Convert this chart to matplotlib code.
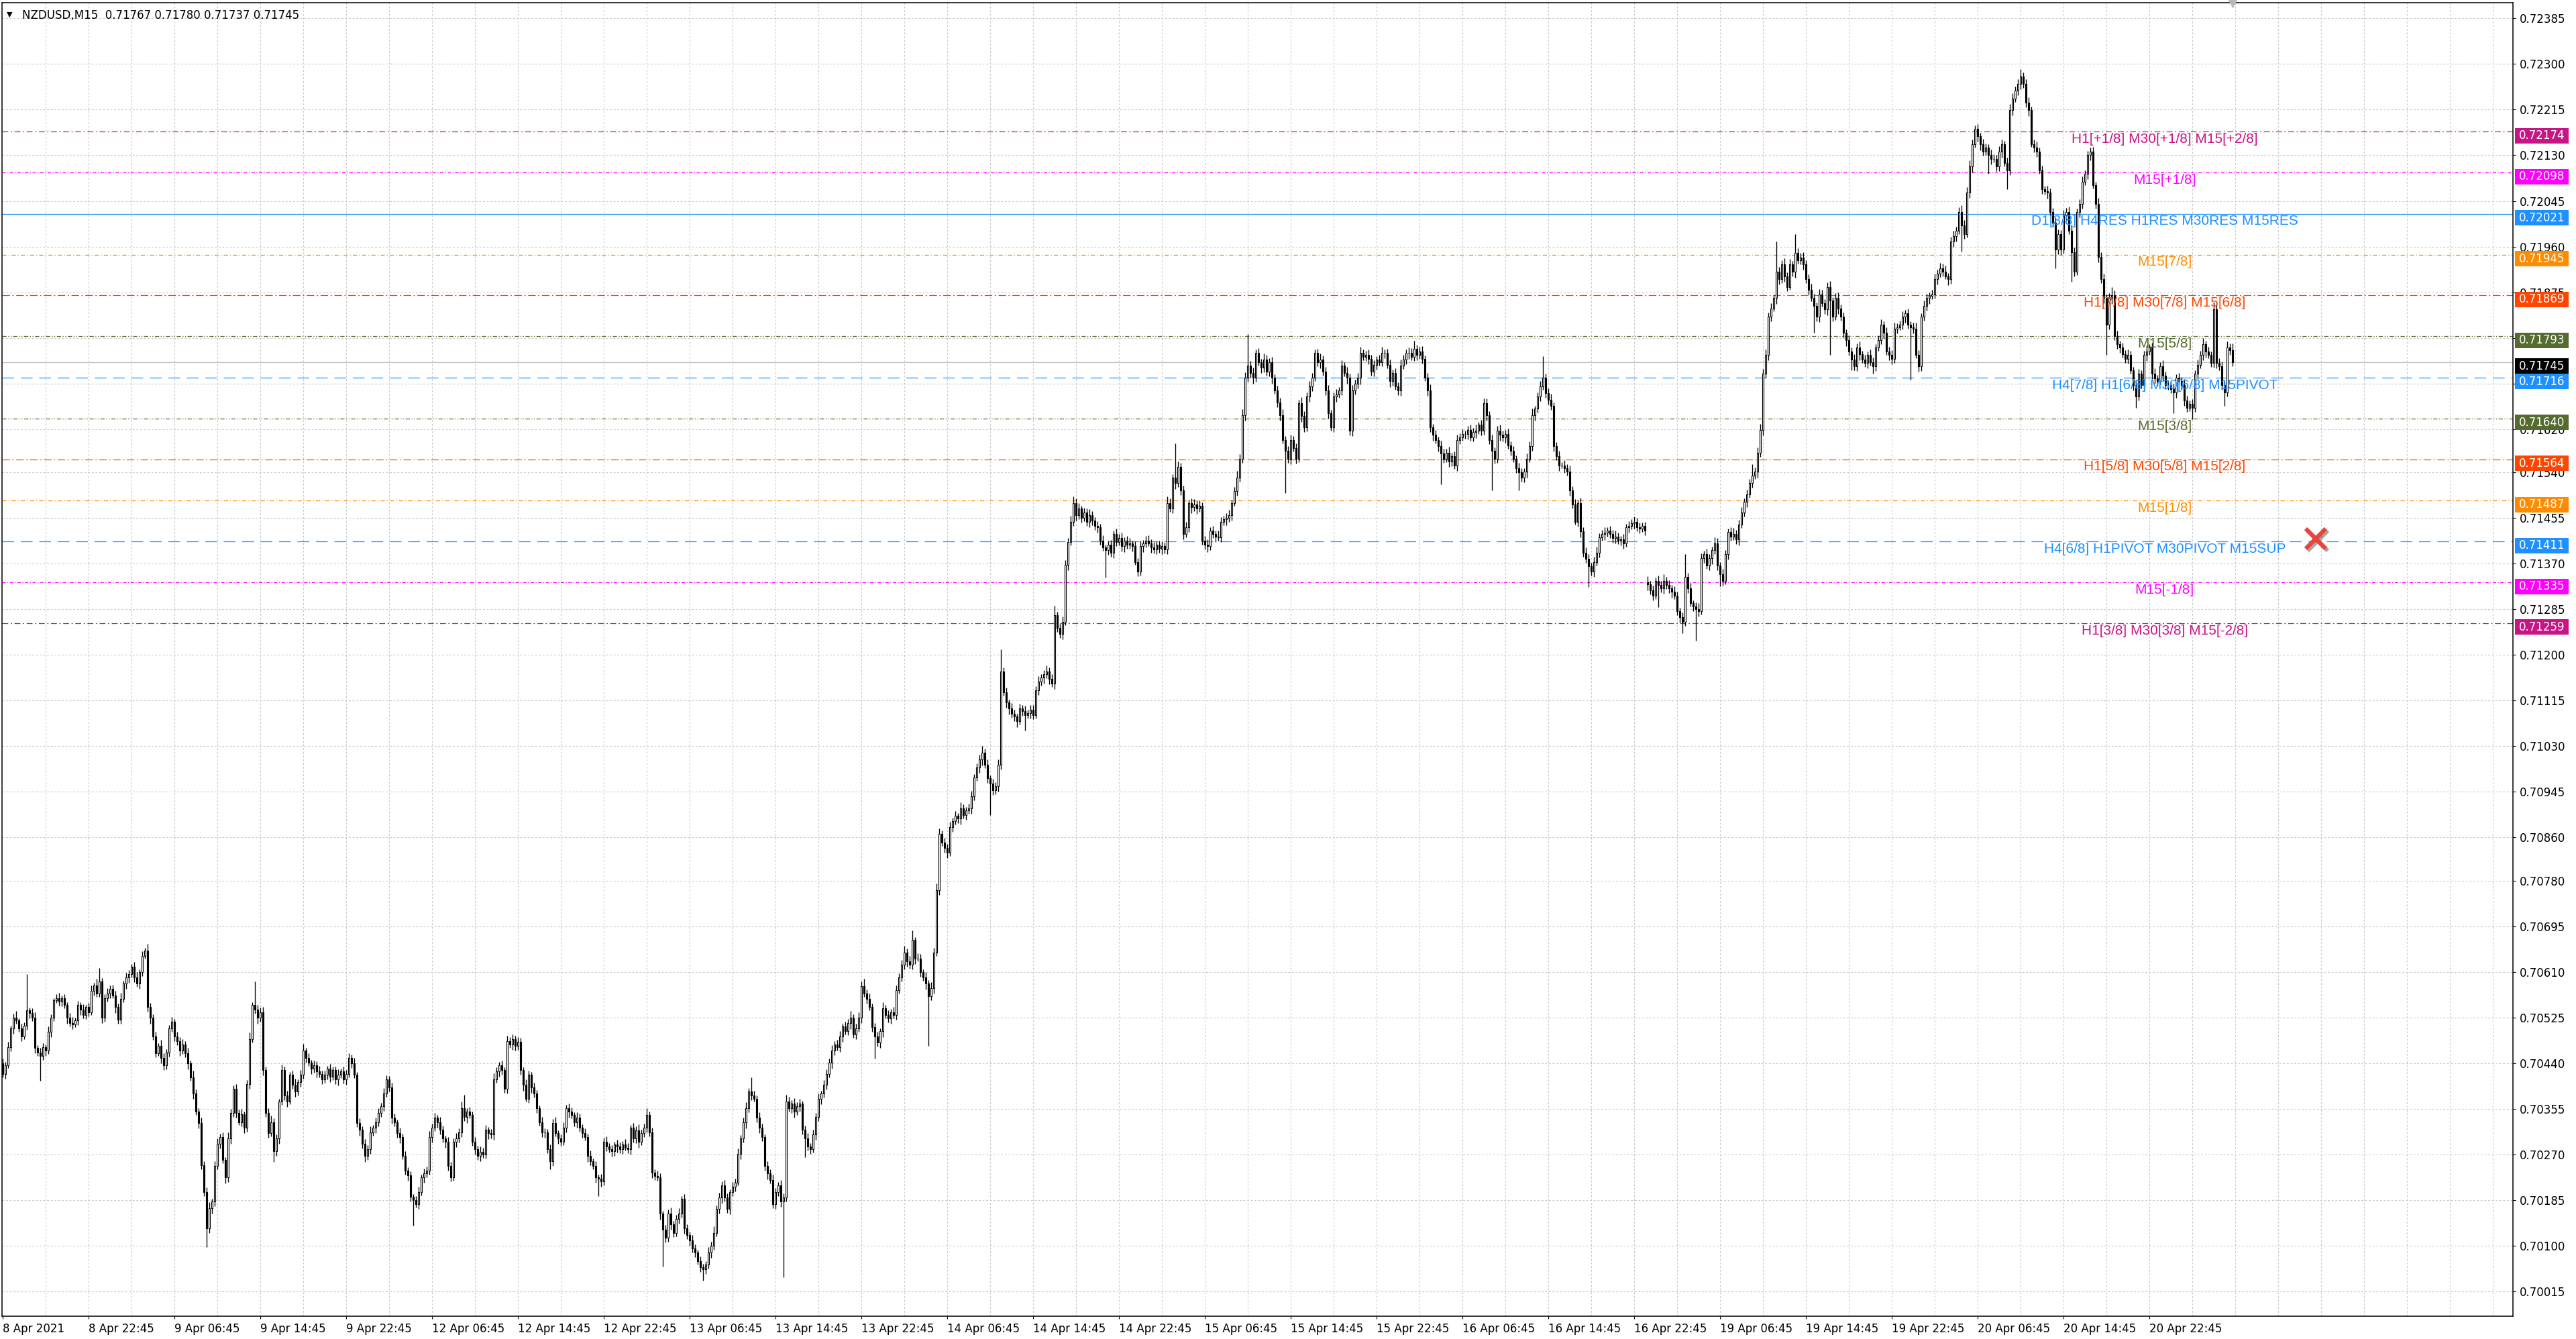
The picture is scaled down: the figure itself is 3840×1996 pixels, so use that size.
# NZDUSD M15 - gráfico de velas estilo MT4 con niveles Murrey
import matplotlib
matplotlib.use("Agg")
import matplotlib.pyplot as plt
import matplotlib.patheffects as pe
from matplotlib.patches import Rectangle

# ---------------- datos ----------------
base = 0.70000   # los cierres van en puntos (1e-5) sobre esta base
first_open = 440
gap_bar = 613    # primera vela del lunes 19 Apr
gap_open = 1335

closes = [
    420, 436, 470, 505, 525, 520, 505, 490, 510, 539, 534, 525, 468, 460, 454, 470,
    463, 499, 525, 557, 561, 555, 561, 548, 525, 515, 512, 520, 548, 540, 530, 545,
    535, 575, 585, 570, 592, 525, 561, 570, 579, 566, 545, 521, 560, 588, 600, 606,
    619, 600, 588, 610, 640, 650, 545, 525, 490, 459, 472, 450, 436, 460, 505, 517,
    490, 481, 463, 475, 459, 440, 414, 383, 350, 329, 250, 200, 133, 170, 182, 249,
    290, 302, 260, 227, 300, 347, 392, 347, 330, 345, 320, 401, 485, 548, 540, 525,
    535, 427, 347, 310, 330, 276, 300, 369, 427, 380, 369, 418, 400, 387, 405, 418,
    463, 450, 441, 430, 436, 425, 420, 410, 418, 430, 415, 427, 410, 418, 425, 410,
    420, 450, 440, 418, 329, 316, 290, 267, 280, 311, 320, 330, 347, 360, 383, 410,
    395, 338, 330, 310, 302, 267, 240, 231, 191, 185, 178, 200, 227, 235, 240, 302,
    320, 338, 330, 316, 300, 294, 249, 227, 294, 300, 311, 356, 340, 350, 343, 294,
    280, 267, 275, 270, 316, 310, 307, 410, 425, 436, 427, 392, 481, 475, 485, 472,
    480, 427, 400, 374, 418, 395, 383, 356, 330, 311, 311, 280, 258, 329, 310, 300,
    294, 320, 356, 350, 343, 330, 338, 320, 310, 302, 267, 258, 249, 227, 225, 220,
    294, 285, 280, 276, 289, 285, 280, 289, 283, 280, 320, 300, 315, 294, 310, 320,
    343, 311, 236, 230, 227, 160, 130, 115, 160, 140, 124, 150, 160, 187, 133, 120,
    110, 95, 88, 71, 60, 57, 65, 88, 100, 124, 169, 190, 213, 190, 169, 200,
    210, 218, 271, 300, 330, 356, 387, 380, 374, 338, 320, 302, 249, 235, 222, 178,
    200, 213, 182, 190, 369, 356, 365, 350, 360, 365, 316, 300, 285, 280, 307, 340,
    374, 383, 400, 420, 441, 463, 475, 470, 490, 508, 500, 515, 525, 494, 505, 525,
    583, 570, 560, 545, 507, 490, 478, 500, 542, 530, 524, 535, 530, 576, 600, 623,
    646, 630, 623, 669, 635, 635, 610, 600, 588, 565, 580, 646, 762, 867, 850, 840,
    832, 879, 890, 900, 895, 914, 902, 910, 914, 937, 972, 990, 1005, 1018, 995, 970,
    960, 948, 955, 995, 1169, 1130, 1111, 1100, 1090, 1085, 1076, 1100, 1095, 1088, 1092, 1098,
    1088, 1134, 1150, 1158, 1164, 1169, 1155, 1146, 1274, 1250, 1239, 1262, 1367, 1410, 1448, 1483,
    1460, 1472, 1455, 1465, 1448, 1460, 1450, 1440, 1437, 1413, 1400, 1395, 1405, 1390, 1425, 1410,
    1418, 1402, 1413, 1405, 1408, 1402, 1373, 1355, 1402, 1408, 1413, 1408, 1400, 1396, 1405, 1398,
    1402, 1396, 1483, 1472, 1530, 1520, 1550, 1506, 1425, 1437, 1483, 1475, 1480, 1472, 1478, 1413,
    1405, 1402, 1431, 1425, 1420, 1419, 1448, 1452, 1455, 1460, 1483, 1505, 1530, 1565, 1646, 1716,
    1739, 1725, 1716, 1762, 1745, 1735, 1750, 1727, 1745, 1716, 1692, 1670, 1646, 1600, 1580, 1565,
    1600, 1585, 1565, 1669, 1645, 1623, 1681, 1700, 1716, 1762, 1745, 1750, 1727, 1692, 1650, 1623,
    1681, 1685, 1692, 1739, 1725, 1716, 1617, 1692, 1705, 1716, 1762, 1755, 1758, 1751, 1727, 1740,
    1750, 1745, 1762, 1762, 1740, 1710, 1725, 1700, 1692, 1739, 1750, 1762, 1762, 1755, 1770, 1758,
    1765, 1751, 1716, 1692, 1623, 1610, 1600, 1588, 1575, 1565, 1576, 1560, 1570, 1553, 1600, 1605,
    1611, 1611, 1618, 1605, 1615, 1617, 1628, 1617, 1669, 1646, 1600, 1580, 1565, 1617, 1610, 1605,
    1611, 1590, 1580, 1565, 1547, 1540, 1530, 1541, 1565, 1588, 1646, 1658, 1681, 1700, 1716, 1687,
    1675, 1663, 1588, 1570, 1553, 1553, 1548, 1541, 1506, 1480, 1448, 1483, 1430, 1390, 1379, 1365,
    1355, 1373, 1390, 1419, 1425, 1428, 1431, 1425, 1418, 1420, 1412, 1415, 1408, 1437, 1440, 1445,
    1448, 1437, 1435, 1440, 1431, 1331, 1320, 1310, 1338, 1330, 1324, 1338, 1330, 1324, 1318, 1310,
    1282, 1270, 1261, 1345, 1324, 1296, 1290, 1285, 1282, 1380, 1387, 1366, 1380, 1395, 1408, 1366,
    1350, 1338, 1387, 1429, 1420, 1425, 1415, 1443, 1465, 1485, 1499, 1520, 1534, 1541, 1576, 1618,
    1723, 1758, 1829, 1845, 1864, 1913, 1899, 1927, 1905, 1885, 1927, 1913, 1948, 1935, 1940, 1927,
    1899, 1880, 1864, 1850, 1829, 1871, 1855, 1843, 1885, 1860, 1829, 1864, 1845, 1829, 1800, 1786,
    1765, 1750, 1737, 1772, 1760, 1750, 1744, 1758, 1745, 1737, 1772, 1786, 1814, 1800, 1765, 1758,
    1751, 1807, 1810, 1814, 1829, 1836, 1814, 1810, 1807, 1758, 1737, 1829, 1850, 1864, 1868, 1871,
    1899, 1910, 1920, 1913, 1905, 1899, 1969, 1980, 1990, 2025, 2000, 1983, 2060, 2109, 2151, 2179,
    2165, 2150, 2137, 2144, 2130, 2123, 2123, 2109, 2137, 2151, 2116, 2102, 2214, 2235, 2250, 2263,
    2277, 2263, 2228, 2214, 2151, 2144, 2137, 2102, 2067, 2063, 2060, 2025, 2004, 1955, 1983, 1955,
    2018, 2025, 1990, 1950, 1913, 2025, 2039, 2081, 2095, 2130, 2137, 2074, 2039, 1941, 1899, 1864,
    1814, 1864, 1870, 1793, 1779, 1772, 1760, 1751, 1758, 1730, 1702, 1681, 1723, 1702, 1758, 1765,
    1772, 1723, 1715, 1709, 1737, 1720, 1702, 1702, 1695, 1688, 1716, 1710, 1702, 1674, 1660, 1667,
    1660, 1723, 1740, 1758, 1779, 1765, 1758, 1744, 1843, 1744, 1737, 1702, 1688, 1772, 1767, 1745,
]

# mechas superiores (puntos por encima del cuerpo)
up_wick = [
    8, 6, 10, 5, 7, 12, 4, 9, 6, 67, 5, 8, 10, 6, 9, 7,
    5, 9, 6, 4, 8, 10, 5, 7, 6, 9, 11, 5, 8, 6, 10, 4,
    7, 9, 5, 12, 25, 6, 8, 10, 5, 7, 9, 6, 11, 5, 8, 7,
    6, 9, 10, 5, 8, 5, 12, 7, 6, 9, 5, 11, 8, 6, 6, 9,
    5, 8, 7, 10, 6, 9, 5, 12, 8, 6, 10, 7, 9, 11, 6, 8,
    10, 7, 9, 5, 11, 8, 6, 9, 7, 10, 5, 8, 12, 6, 44, 9,
    8, 10, 6, 9, 12, 7, 8, 5, 10, 7, 9, 6, 8, 11, 5, 9,
    13, 6, 8, 5, 9, 7, 10, 6, 8, 5, 9, 7, 6, 10, 5, 8,
    7, 9, 6, 10, 5, 8, 6, 9, 7, 11, 5, 8, 9, 6, 10, 7,
    6, 9, 8, 5, 10, 7, 9, 6, 8, 5, 7, 10, 6, 9, 8, 12,
    7, 9, 6, 10, 8, 5, 9, 7, 6, 10, 8, 12, 25, 6, 9, 7,
    8, 6, 10, 7, 9, 5, 8, 11, 7, 6, 9, 5, 10, 8, 9, 6,
    9, 7, 5, 10, 8, 6, 9, 7, 5, 10, 8, 6, 9, 7, 11, 5,
    8, 10, 6, 9, 7, 5, 11, 8, 6, 9, 7, 10, 5, 8, 6, 9,
    7, 10, 6, 8, 5, 9, 7, 6, 10, 8, 5, 9, 7, 11, 6, 8,
    13, 7, 9, 6, 10, 8, 5, 9, 7, 11, 6, 8, 10, 5, 9, 7,
    6, 10, 8, 5, 9, 7, 6, 10, 8, 12, 6, 9, 7, 10, 8, 5,
    9, 7, 10, 6, 8, 11, 7, 27, 9, 6, 10, 8, 5, 9, 7, 10,
    8, 6, 9, 7, 12, 8, 6, 10, 7, 9, 5, 8, 10, 6, 9, 7,
    10, 6, 8, 9, 7, 11, 6, 8, 10, 5, 9, 7, 12, 6, 8, 10,
    9, 14, 7, 10, 6, 8, 9, 5, 11, 7, 9, 6, 10, 8, 7, 9,
    12, 7, 9, 18, 6, 10, 8, 5, 9, 7, 11, 8, 12, 10, 6, 9,
    8, 10, 7, 9, 6, 11, 8, 7, 9, 10, 6, 8, 9, 12, 7, 10,
    6, 9, 8, 11, 41, 7, 9, 6, 10, 8, 5, 9, 7, 10, 6, 8,
    9, 7, 10, 6, 8, 11, 7, 9, 17, 6, 8, 10, 9, 7, 11, 12,
    8, 10, 6, 9, 7, 11, 8, 6, 9, 7, 10, 5, 8, 9, 6, 10,
    7, 9, 6, 8, 10, 5, 9, 7, 11, 6, 8, 9, 7, 10, 6, 8,
    9, 7, 12, 8, 6, 64, 10, 7, 9, 11, 6, 8, 10, 7, 9, 6,
    8, 10, 7, 9, 6, 11, 8, 7, 9, 10, 6, 8, 12, 9, 11, 10,
    58, 8, 10, 7, 9, 6, 11, 8, 7, 10, 6, 9, 8, 11, 7, 9,
    10, 7, 9, 6, 11, 8, 7, 10, 9, 6, 8, 11, 7, 9, 10, 6,
    8, 10, 7, 9, 6, 11, 8, 10, 7, 9, 12, 6, 8, 10, 7, 9,
    6, 9, 11, 7, 8, 10, 6, 9, 7, 11, 8, 6, 10, 9, 15, 7,
    8, 10, 6, 9, 11, 7, 8, 6, 10, 9, 7, 11, 6, 8, 10, 7,
    9, 6, 8, 10, 7, 11, 6, 9, 8, 8, 7, 10, 6, 9, 11, 7,
    8, 10, 7, 9, 6, 11, 8, 7, 10, 9, 12, 6, 8, 10, 40, 7,
    9, 11, 7, 8, 10, 6, 9, 7, 11, 8, 10, 6, 9, 7, 10, 8,
    6, 9, 11, 7, 8, 10, 6, 9, 7, 11, 8, 6, 10, 7, 9, 8,
    10, 7, 9, 6, 8, 11, 7, 9, 6, 10, 8, 12, 7, 9, 6, 10,
    8, 6, 9, 42, 7, 10, 6, 8, 11, 9, 7, 10, 8, 6, 11, 9,
    7, 10, 8, 6, 9, 11, 7, 8, 10, 6, 9, 7, 21, 8, 10, 12,
    9, 11, 8, 10, 7, 56, 9, 8, 11, 7, 10, 6, 35, 9, 8, 10,
    7, 9, 11, 8, 6, 10, 9, 7, 8, 11, 6, 9, 10, 7, 8, 6,
    9, 7, 10, 8, 11, 6, 9, 7, 10, 8, 6, 9, 11, 7, 10, 8,
    9, 11, 7, 8, 10, 6, 9, 7, 8, 11, 9, 7, 10, 8, 6, 9,
    10, 7, 9, 8, 11, 6, 9, 10, 7, 8, 12, 9, 10, 11, 8, 7,
    9, 7, 10, 8, 6, 11, 9, 7, 10, 8, 6, 9, 11, 10, 8, 9,
    14, 7, 9, 10, 6, 8, 11, 7, 9, 6, 10, 8, 7, 11, 9, 8,
    10, 7, 9, 11, 8, 6, 9, 10, 7, 8, 7, 9, 6, 11, 8, 10,
    7, 9, 15, 8, 10, 6, 9, 7, 11, 8, 6, 10, 9, 7, 8, 11,
    7, 9, 10, 6, 8, 11, 7, 9, 8, 10, 6, 9, 7, 11, 8, 6,
    9, 7, 10, 8, 11, 6, 9, 7, 14, 10, 8, 9, 7, 11, 8, 13,
]

# mechas inferiores (puntos por debajo del cuerpo)
dn_wick = [
    6, 9, 5, 8, 10, 7, 6, 9, 5, 8, 11, 6, 9, 7, 47, 8,
    9, 6, 10, 7, 5, 8, 9, 6, 11, 7, 8, 5, 9, 10, 6, 8,
    8, 5, 9, 7, 6, 10, 8, 6, 9, 5, 11, 7, 8, 6, 9, 10,
    7, 9, 6, 10, 8, 5, 9, 11, 7, 8, 6, 10, 9, 7, 8, 6,
    9, 7, 10, 6, 8, 11, 7, 9, 6, 10, 8, 7, 36, 9, 10, 8,
    7, 9, 6, 11, 8, 10, 7, 9, 5, 8, 10, 7, 9, 6, 8, 11,
    8, 10, 7, 9, 6, 20, 8, 10, 7, 9, 11, 6, 8, 10, 7, 9,
    7, 9, 6, 10, 8, 11, 7, 9, 6, 8, 10, 7, 9, 11, 6, 8,
    10, 7, 9, 6, 8, 11, 9, 11, 7, 9, 6, 10, 8, 7, 9, 6,
    8, 10, 7, 9, 11, 6, 8, 10, 9, 48, 7, 9, 6, 10, 8, 7,
    9, 6, 10, 8, 7, 11, 9, 7, 6, 10, 8, 9, 7, 11, 6, 8,
    10, 7, 9, 6, 8, 11, 7, 9, 6, 10, 8, 7, 9, 6, 10, 8,
    7, 9, 11, 6, 8, 10, 7, 9, 6, 8, 10, 7, 16, 9, 6, 10,
    8, 7, 9, 11, 6, 8, 10, 7, 9, 6, 11, 8, 7, 9, 32, 10,
    7, 9, 6, 10, 8, 11, 7, 9, 6, 8, 10, 7, 9, 11, 6, 8,
    9, 7, 10, 8, 6, 11, 68, 9, 7, 10, 8, 6, 9, 7, 11, 8,
    10, 7, 9, 6, 8, 22, 9, 7, 10, 8, 6, 9, 11, 7, 8, 10,
    7, 9, 6, 10, 8, 11, 7, 9, 6, 8, 10, 7, 9, 11, 6, 8,
    9, 7, 10, 140, 8, 6, 9, 11, 7, 10, 8, 35, 7, 9, 6, 10,
    8, 10, 7, 9, 6, 11, 8, 7, 9, 10, 6, 8, 11, 7, 9, 6,
    10, 7, 9, 6, 8, 41, 7, 9, 11, 6, 8, 10, 7, 9, 6, 8,
    9, 11, 7, 8, 10, 6, 9, 7, 11, 93, 8, 10, 7, 9, 6, 8,
    10, 7, 9, 6, 8, 11, 7, 9, 6, 10, 8, 7, 9, 11, 6, 8,
    58, 9, 7, 10, 8, 6, 9, 11, 7, 8, 10, 6, 9, 29, 7, 10,
    8, 6, 9, 7, 11, 8, 10, 6, 9, 7, 8, 10, 7, 9, 6, 8,
    10, 7, 9, 6, 8, 11, 9, 7, 10, 8, 6, 51, 9, 7, 10, 8,
    6, 9, 11, 7, 8, 10, 6, 9, 7, 11, 8, 6, 10, 7, 9, 8,
    10, 7, 9, 6, 8, 11, 7, 9, 10, 6, 8, 11, 7, 9, 6, 8,
    9, 11, 7, 8, 10, 6, 9, 7, 11, 8, 10, 6, 9, 7, 8, 10,
    7, 9, 11, 8, 6, 10, 9, 7, 8, 11, 6, 9, 10, 7, 79, 8,
    10, 7, 9, 6, 11, 8, 7, 10, 9, 6, 8, 11, 7, 9, 10, 6,
    8, 10, 7, 9, 6, 11, 8, 10, 7, 9, 12, 6, 8, 10, 7, 9,
    9, 6, 8, 10, 7, 11, 9, 6, 8, 10, 7, 9, 11, 6, 8, 10,
    7, 9, 6, 10, 8, 11, 7, 9, 57, 8, 6, 10, 9, 7, 11, 8,
    6, 9, 10, 7, 8, 11, 6, 9, 7, 10, 8, 74, 9, 7, 11, 8,
    10, 7, 9, 6, 8, 34, 7, 9, 11, 6, 8, 10, 7, 9, 6, 8,
    9, 7, 10, 8, 11, 6, 9, 7, 10, 8, 6, 9, 11, 7, 8, 39,
    8, 10, 7, 9, 6, 11, 8, 7, 9, 10, 6, 8, 11, 7, 9, 6,
    10, 7, 9, 6, 8, 11, 7, 9, 6, 41, 8, 10, 7, 9, 11, 6,
    8, 10, 21, 7, 9, 6, 8, 59, 10, 7, 9, 6, 8, 11, 7, 9,
    22, 9, 7, 10, 8, 6, 9, 11, 7, 8, 10, 6, 9, 7, 11, 8,
    9, 7, 10, 8, 6, 11, 9, 7, 10, 8, 6, 9, 11, 7, 8, 10,
    7, 9, 6, 50, 8, 10, 7, 9, 11, 102, 8, 6, 10, 7, 9, 11,
    8, 20, 7, 9, 11, 6, 8, 10, 7, 14, 9, 6, 8, 11, 7, 9,
    10, 7, 9, 6, 8, 11, 7, 98, 9, 6, 10, 8, 7, 9, 11, 6,
    8, 10, 7, 9, 6, 11, 8, 9, 10, 7, 49, 8, 6, 9, 11, 7,
    9, 11, 8, 7, 35, 10, 6, 9, 8, 11, 7, 35, 9, 10, 6, 8,
    10, 7, 9, 11, 6, 8, 10, 7, 9, 6, 11, 8, 7, 35, 9, 10,
    8, 10, 7, 56, 9, 6, 11, 8, 7, 10, 9, 6, 8, 10, 7, 9,
    56, 8, 11, 7, 9, 10, 6, 8, 9, 7, 10, 21, 8, 6, 9, 11,
    7, 9, 10, 8, 6, 11, 7, 9, 8, 38, 10, 7, 9, 11, 8, 6,
    21, 8, 10, 7, 9, 11, 6, 8, 9, 10, 7, 8, 24, 7, 9, 8,
]

date_labels = ["8 Apr 2021", "8 Apr 22:45", "9 Apr 06:45", "9 Apr 14:45", "9 Apr 22:45",
               "12 Apr 06:45", "12 Apr 14:45", "12 Apr 22:45", "13 Apr 06:45", "13 Apr 14:45",
               "13 Apr 22:45", "14 Apr 06:45", "14 Apr 14:45", "14 Apr 22:45", "15 Apr 06:45",
               "15 Apr 14:45", "15 Apr 22:45", "16 Apr 06:45", "16 Apr 14:45", "16 Apr 22:45",
               "19 Apr 06:45", "19 Apr 14:45", "19 Apr 22:45", "20 Apr 06:45", "20 Apr 14:45",
               "20 Apr 22:45"]
date_bars = [32 * k for k in range(len(date_labels))]

price_ticks = [0.72385, 0.72300, 0.72215, 0.72130, 0.72045, 0.71960, 0.71875, 0.71790,
               0.71705, 0.71620, 0.71540, 0.71455, 0.71370, 0.71285, 0.71200, 0.71115,
               0.71030, 0.70945, 0.70860, 0.70780, 0.70695, 0.70610, 0.70525, 0.70440,
               0.70355, 0.70270, 0.70185, 0.70100, 0.70015]

# niveles Murrey: precio, texto, color, estilo de línea
levels = [0.72174, 0.72098, 0.72021, 0.71945, 0.71869, 0.71793, 0.71716,
          0.71640, 0.71564, 0.71487, 0.71411, 0.71335, 0.71259]
level_names = ["H1[+1/8] M30[+1/8] M15[+2/8]", "M15[+1/8]",
               "D1[3/8] H4RES H1RES M30RES M15RES", "M15[7/8]",
               "H1[7/8] M30[7/8] M15[6/8]", "M15[5/8]",
               "H4[7/8] H1[6/8] M30[6/8] M15PIVOT", "M15[3/8]",
               "H1[5/8] M30[5/8] M15[2/8]", "M15[1/8]",
               "H4[6/8] H1PIVOT M30PIVOT M15SUP", "M15[-1/8]",
               "H1[3/8] M30[3/8] M15[-2/8]"]
level_colors = ["#C71585", "#FF00FF", "#1E90FF", "#FF8C00", "#FF4500", "#556B2F", "#1E90FF",
                "#556B2F", "#FF4500", "#FF8C00", "#1E90FF", "#FF00FF", "#C71585"]
level_styles = [(0, (7, 3, 1.5, 3)), (0, (4, 2, 1, 2)), "-", (0, (5, 2.5, 1, 2.5)),
                (0, (9, 3, 1.5, 3)), (0, (5, 2, 1, 2, 1, 2)), (0, (14, 8)),
                (0, (5, 2, 1, 2, 1, 2)), (0, (9, 3, 1.5, 3)), (0, (5, 2.5, 1, 2.5)),
                (0, (14, 8)), (0, (4, 2, 1, 2)), (0, (7, 3, 1.5, 3))]

header = "NZDUSD,M15  0.71767 0.71780 0.71737 0.71745"
bid = 0.71745
cross_bar = 862
cross_price = 0.71416

# ---------------- figura ----------------
plt.rcParams["font.family"] = ["DejaVu Sans"]
W, H = 3840, 1996
fig = plt.figure(figsize=(W / 100, H / 100), dpi=100, facecolor="white")
left, right, top, bottom = 3, 3746, 4, 1962
ax = fig.add_axes([left / W, 1 - bottom / H, (right - left) / W, (bottom - top) / H])
ax.set_facecolor("white")

n = len(closes)
xs = list(range(n))
opens = [first_open] + closes[:-1]
opens[gap_bar] = gap_open
o = [base + v / 1e5 for v in opens]
c = [base + v / 1e5 for v in closes]
hi = [max(a, b) + u / 1e5 for a, b, u in zip(o, c, up_wick)]
lo = [min(a, b) - d / 1e5 for a, b, d in zip(o, c, dn_wick)]

ax.set_xlim(-0.25, 935.5)
ax.set_ylim(0.69969, 0.72414)

# cuadrícula punteada
for k in range(16, 936, 16):
    ax.axvline(k, color="#C8C8C8", lw=0.8, ls=(0, (2.5, 2.5)), zorder=0)
for p in price_ticks:
    ax.axhline(p, color="#C8C8C8", lw=0.8, ls=(0, (2.5, 2.5)), zorder=0)

# línea bid
ax.axhline(bid, color="#C0C0C0", lw=1.0, zorder=1)

# niveles
for lv, col, st in zip(levels, level_colors, level_styles):
    ax.axhline(lv, color=col, lw=0.9, ls=st, zorder=1)

# velas
ax.vlines(xs, lo, hi, color="black", lw=0.95, zorder=3)
bull = [i for i in xs if c[i] >= o[i]]
bear = [i for i in xs if c[i] < o[i]]
ax.bar(bull, [c[i] - o[i] for i in bull], bottom=[o[i] for i in bull], width=0.72,
       color="white", edgecolor="black", linewidth=0.8, zorder=4)
ax.bar(bear, [o[i] - c[i] for i in bear], bottom=[c[i] for i in bear], width=0.72,
       color="black", edgecolor="black", linewidth=0.8, zorder=4)

# textos de los niveles
for lv, name, col in zip(levels, level_names, level_colors):
    ax.text(805.7, lv - 0.00014, name, color=col, ha="center", va="center",
            fontsize=15, family=["Liberation Sans", "DejaVu Sans"], zorder=6)

# cruz roja
ax.plot([cross_bar], [cross_price], marker="x", ms=22, mew=4.5, color="#E8453C",
        zorder=8, path_effects=[pe.SimpleLineShadow(offset=(2, -2), alpha=0.35), pe.Normal()])

# marcador de desplazamiento arriba
ax.plot([n - 1], [0.72414], marker="v", ms=10, color="#B8B8B8", clip_on=False, zorder=9)

# ejes
ax.yaxis.tick_right()
ax.set_yticks(price_ticks)
ax.set_yticklabels([f"{p:.5f}" for p in price_ticks])
ax.set_xticks(date_bars)
ax.set_xticklabels(date_labels)
for t in ax.get_xticklabels():
    t.set_ha("left")
ax.tick_params(axis="y", direction="out", length=3, width=0.8, pad=4, labelsize=12,
               colors="black")
ax.tick_params(axis="x", direction="out", length=3, width=0.8, pad=4, labelsize=12,
               colors="black")
for s in ax.spines.values():
    s.set_color("black")
    s.set_linewidth(1.1)

# etiquetas de precio a color en el eje derecho (un poco por debajo de la línea)
trans = ax.get_yaxis_transform()
box_vals = levels + [bid]
box_cols = level_colors + ["black"]
bw = 80 / (right - left)
bh = 23 / 80084
shift = 6 / 80084
for lv, col in zip(box_vals, box_cols):
    ax.add_patch(Rectangle((1.0008, lv - shift - bh / 2), bw, bh, transform=trans,
                           facecolor=col, edgecolor="none", clip_on=False, zorder=10))
    ax.text(1.0025, lv - shift, f"{lv:.5f}", transform=trans, color="white", fontsize=12,
            ha="left", va="center", clip_on=False, zorder=11)

# cabecera
fig.text(10 / W, 1 - 22 / H, "▼", fontsize=8, va="center", ha="left")
fig.text(33 / W, 1 - 23 / H, header, fontsize=12, va="center", ha="left")

fig.savefig("out.png", dpi=100, facecolor="white")
